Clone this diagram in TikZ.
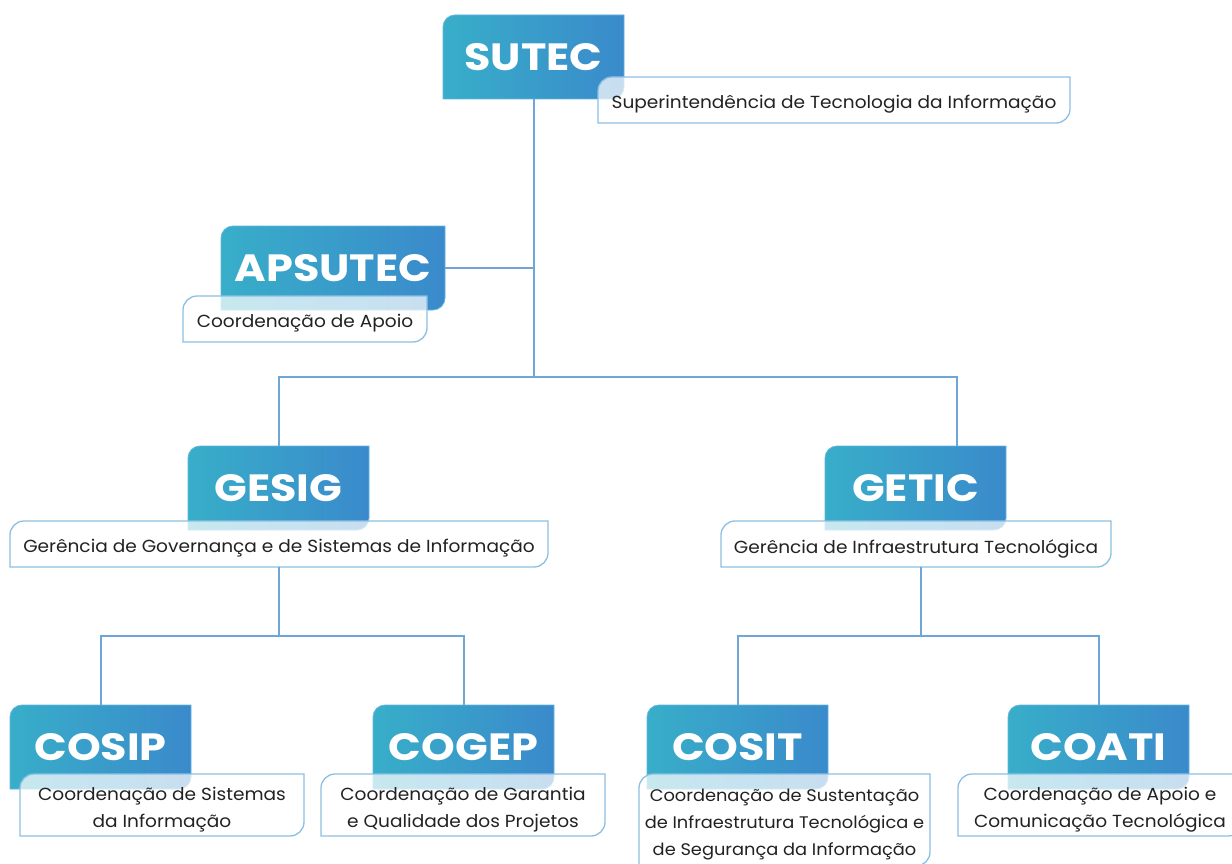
\documentclass[tikz,border=0pt]{standalone}
\usepackage{fontspec}
\setmainfont{Poppins}
\newfontfamily\titlefont{Poppins}[FakeStretch=1.13]
\newfontfamily\descfont{Poppins}[FakeStretch=1.06]
\usetikzlibrary{calc}
\definecolor{gL}{HTML}{38AEC9}
\definecolor{gR}{HTML}{3A8ACB}
\definecolor{edgec}{HTML}{6FA6D8}
\definecolor{dborder}{HTML}{8CC0E3}
\definecolor{tborder}{HTML}{62B6DD}
\definecolor{dtext}{HTML}{222222}
\tikzset{
  conn/.style={draw=edgec, line width=2pt},
  titlefill/.style={left color=gL, right color=gR, draw=tborder, line width=0.8pt},
  descfill/.style={fill=white, fill opacity=0.72, draw=dborder, draw opacity=1, line width=1.3pt},
  titletext/.style={text=white, font=\titlefont\fontsize{38}{40}\selectfont\bfseries, inner sep=0pt},
  desctext/.style={text=dtext, font=\descfont\fontsize{17.5}{27}\selectfont, align=center, inner sep=0pt},
  smalldesc/.style={font=\descfont\fontsize{16.8}{27}\selectfont}
}
% path with rounded top-left and bottom-right corners
\newcommand\obox[6]{%
  \path[#1] (#2,#5) -- (#2,#3+#6) .. controls (#2,#3+0.45*#6) and (#2+0.45*#6,#3) .. (#2+#6,#3)
    -- (#4,#3) -- (#4,#5-#6) .. controls (#4,#5-0.45*#6) and (#4-0.45*#6,#5) .. (#4-#6,#5) -- cycle;}
\newcommand\titlebox[6]{%
  \obox{titlefill}{#2}{#3}{#4}{#5}{12}%
  \node[titletext, minimum width={(#4-#2)*1pt}, minimum height={(#5-#3)*1pt}] (#1) at ({(#2+#4)/2},{(#3+#5)/2}) {#6};}
\newcommand\descbox[7][]{%
  \obox{descfill}{#3}{#4}{#5}{#6}{14}%
  \node[desctext, #1, minimum width={(#5-#3)*1pt}, minimum height={(#6-#4)*1pt}] (#2) at ({(#3+#5)/2},{(#4+#6)/2+4.5}) {#7};}
\begin{document}
\begin{tikzpicture}[x=1pt,y=-1pt]
\useasboundingbox[fill=white] (0,0) rectangle (1232,864);
% title boxes
\titlebox{sutec}{443}{15}{624}{99}{SUTEC}
\titlebox{apsutec}{221}{226}{445}{310}{APSUTEC}
\titlebox{gesig}{188}{446}{369}{530}{GESIG}
\titlebox{getic}{825}{446}{1006}{530}{GETIC}
\titlebox{cosip}{10}{705}{191}{789}{COSIP}
\titlebox{cogep}{373}{705}{554}{789}{COGEP}
\titlebox{cosit}{647}{705}{828}{789}{COSIT}
\titlebox{coati}{1008}{705}{1189}{789}{COATI}
% junctions
\coordinate (j1) at (533.5,377);
\coordinate (geticin) at (957,446);
\coordinate (j2) at (279,636);
\coordinate (geticout) at (921,567);
\coordinate (j3) at (921,636);
% description boxes
\descbox{sutecd}{598}{77}{1070}{123}{Superintendência de Tecnologia da Informação}
\descbox{apsutecd}{183}{296}{427}{342}{Coordenação de Apoio}
\descbox{gesigd}{10}{521}{548}{567}{Gerência de Governança e de Sistemas de Informação}
\descbox{geticd}{721}{521}{1111}{567}{Gerência de Infraestrutura Tecnológica}
\descbox{cosipd}{20}{774}{304}{836}{Coordenação de Sistemas\\da Informação}
\descbox{cogepd}{321}{774}{605}{836}{Coordenação de Garantia\\e Qualidade dos Projetos}
\descbox[smalldesc]{cositd}{639}{774}{930}{866}{Coordenação de Sustentação\\de Infraestrutura Tecnológica e\\de Segurança da Informação}
\descbox{coatid}{958}{774}{1242}{836}{Coordenação de Apoio e\\Comunicação Tecnológica}
% connectors
\draw[conn] (sutec.south) -- (j1);
\draw[conn] (apsutec.east) -- (apsutec.east -| j1);
\draw[conn] (gesig.north) |- (j1) -| (geticin);
\draw[conn] (gesigd.south |- 0,567) -- (j2);
\draw[conn] (cosip.north) |- (j2) -| (cogep.north);
\draw[conn] (geticout) -- (j3);
\draw[conn] (cosit.north) |- (j3) -| (coati.north);
\end{tikzpicture}
\end{document}
